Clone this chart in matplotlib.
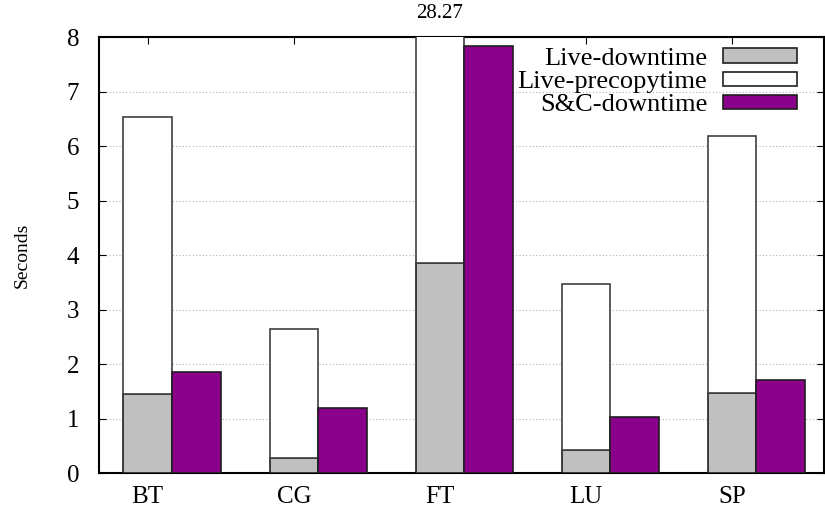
import matplotlib.pyplot as plt
import numpy as np
from matplotlib.patches import Patch

plt.rcParams['font.family'] = ['Liberation Serif', 'DejaVu Serif']

benchmarks = ['BT', 'CG', 'FT', 'LU', 'SP']
live_downtime = [1.46, 0.28, 3.86, 0.43, 1.47]
live_total = [6.53, 2.64, 28.27, 3.47, 6.19]
sc_downtime = [1.86, 1.19, 7.84, 1.04, 1.72]
live_precopy = [t - d for t, d in zip(live_total, live_downtime)]

fig = plt.figure(figsize=(8.25, 5.08), dpi=100)
ax = fig.add_axes([0.1196, 0.0683, 0.8794, 0.8583])

x = np.arange(len(benchmarks))
w = 1 / 3.0
ax.bar(x, live_downtime, w, color='#c0c0c0', edgecolor='#202020', linewidth=1.2, zorder=3)
ax.bar(x, live_precopy, w, bottom=live_downtime, color='white', edgecolor='#404040',
       linewidth=1.2, zorder=3)
ax.bar(x + w, sc_downtime, w, color='#8b008b', edgecolor='#202020', linewidth=1.2, zorder=3)

# FT precopy bar is off the scale, so its total is written above
ax.text(2, 8.43, '%.2f' % live_total[2], ha='center', va='center', fontsize=15, clip_on=False)

ax.set_xlim(-0.336, 4.63)
ax.set_ylim(0, 8)
ax.set_xticks(x)
ax.set_xticklabels(benchmarks)
ax.set_yticks(range(0, 9))
ax.tick_params(direction='in', top=True, right=True, length=5, labelsize=18)
ax.tick_params(axis='x', pad=9)
ax.tick_params(axis='y', pad=14)
ax.yaxis.grid(True, linestyle=(0, (1, 2)), color='#b0b0b0', linewidth=0.8, zorder=0)
ax.set_axisbelow(True)
for s in ax.spines.values():
    s.set_linewidth(1.5)
ax.set_ylabel('Seconds', fontsize=14, labelpad=26)

handles = [Patch(facecolor='#c0c0c0', edgecolor='#202020', linewidth=1.2),
           Patch(facecolor='white', edgecolor='#202020', linewidth=1.2),
           Patch(facecolor='#8b008b', edgecolor='#202020', linewidth=1.2)]
ax.legend(handles, ['Live-downtime', 'Live-precopytime', 'S&C-downtime'],
          loc='upper right', bbox_to_anchor=(0.977, 1.0), borderaxespad=0,
          frameon=False, markerfirst=False, fontsize=19, handlelength=2.8,
          handleheight=0.45, handletextpad=0.6, labelspacing=0.05)

fig.savefig('out.png', dpi=100)
